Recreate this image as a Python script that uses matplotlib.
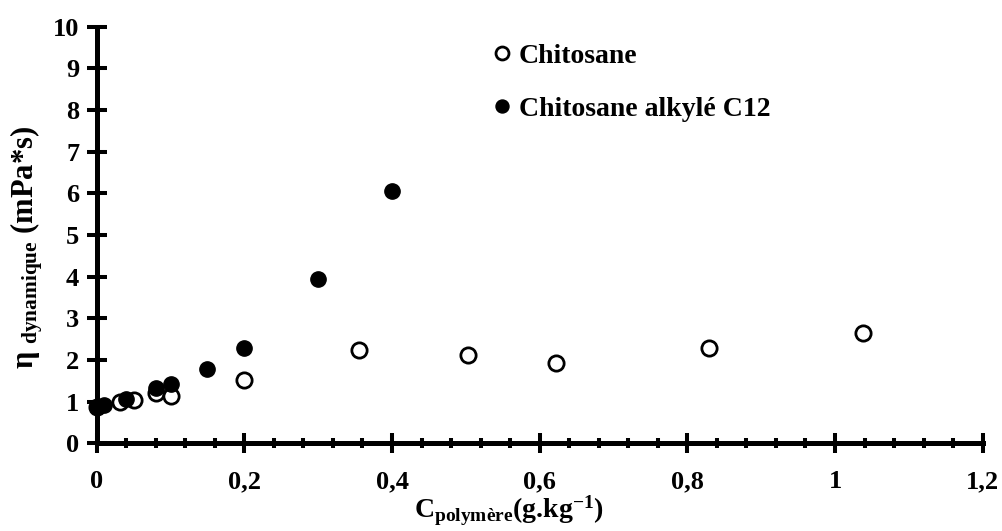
import matplotlib
matplotlib.use("Agg")
import matplotlib.pyplot as plt
from matplotlib.ticker import MultipleLocator, FuncFormatter

# données
x_chitosane = [0, 0.031, 0.051, 0.08, 0.10, 0.20, 0.355, 0.503, 0.622, 0.830, 1.038]
y_chitosane = [0.88, 0.99, 1.03, 1.20, 1.13, 1.51, 2.24, 2.12, 1.92, 2.30, 2.65]
x_c12 = [0, 0.01, 0.04, 0.08, 0.10, 0.15, 0.20, 0.30, 0.40]
y_c12 = [0.87, 0.91, 1.07, 1.32, 1.43, 1.78, 2.30, 3.94, 6.06]
label_chitosane = "Chitosane"
label_c12 = "Chitosane alkylé C12"

plt.rcParams["font.family"] = ["Liberation Serif", "DejaVu Serif"]
plt.rcParams["font.weight"] = "bold"
plt.rcParams["mathtext.fontset"] = "custom"
plt.rcParams["mathtext.rm"] = "Liberation Serif:bold"
plt.rcParams["mathtext.it"] = "Liberation Serif:bold"
plt.rcParams["mathtext.bf"] = "Liberation Serif:bold"

fig = plt.figure(figsize=(10.02, 5.31), dpi=100)
ax = fig.add_axes([0.0965, 0.165, 0.8842, 0.785])

ax.plot(x_chitosane, y_chitosane, "o", ms=11, mfc="white", mec="black", mew=2,
        label=label_chitosane, clip_on=False, zorder=3)
ax.plot(x_c12, y_c12, "o", ms=11, mfc="black", mec="black", mew=1,
        label=label_c12, clip_on=False, zorder=4)

ax.set_xlim(0, 1.2)
ax.set_ylim(0, 10)
for s in ["top", "right"]:
    ax.spines[s].set_visible(False)
for s in ["left", "bottom"]:
    ax.spines[s].set_linewidth(3.6)

ax.xaxis.set_major_locator(MultipleLocator(0.2))
ax.xaxis.set_minor_locator(MultipleLocator(0.04))
ax.yaxis.set_major_locator(MultipleLocator(1))
ax.xaxis.set_major_formatter(FuncFormatter(lambda v, p: f"{v:g}".replace(".", ",")))

ax.tick_params(axis="both", which="major", direction="inout", length=15, width=2.9,
               labelsize=19)
ax.tick_params(axis="x", which="minor", direction="inout", length=6.5, width=2.9)
ax.tick_params(axis="x", which="major", pad=12)
ax.tick_params(axis="y", which="major", pad=5)

ax.set_xlabel(r"C$_{\mathrm{polymère}}$(g.kg$^{\mathrm{-1}}$)", fontsize=20, fontweight="bold")
ax.set_ylabel(r"η $_{\mathrm{dynamique}}$ (mPa*s)", fontsize=22, fontweight="bold")
ax.xaxis.set_label_coords(0.465, -0.122)
ax.yaxis.set_label_coords(-0.058, 0.47)

ax.legend(loc="upper left", bbox_to_anchor=(0.42, 1.02), frameon=False, fontsize=20,
          markerscale=0.85, handlelength=0.6, handletextpad=0.3, labelspacing=1.0)

fig.savefig("out.png", dpi=100)
